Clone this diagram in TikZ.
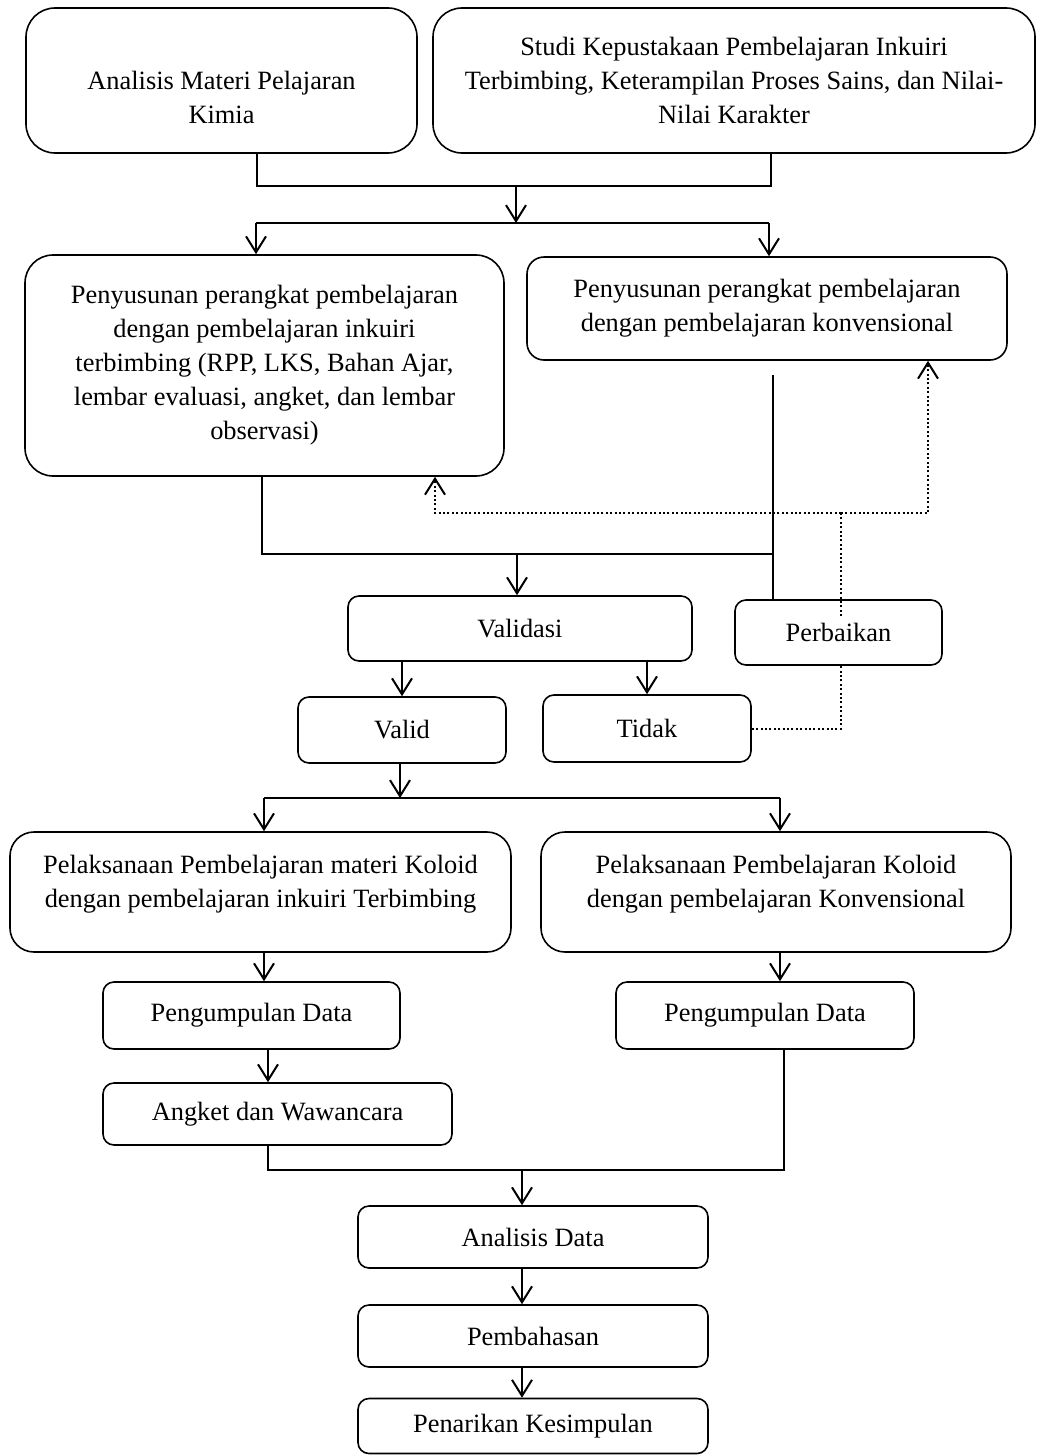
\documentclass[tikz,border=0pt]{standalone}
\usepackage{fontspec}
\setmainfont{Liberation Serif}
\usetikzlibrary{arrows.meta}

\begin{document}
\begin{tikzpicture}[x=1pt, y=-1pt, box/.style = {draw, line width=1.6pt, align=center, inner sep=2pt, rounded corners=#1, font=\fontsize{26.4}{34}\selectfont}, box/.default = 11pt, link/.style = {line width=2pt}, flow/.style = {link, -{Straight Barb[length=16pt,width=20pt]}}, fix/.style = {line width=2pt, dash pattern=on 2pt off 2.4pt}, fixflow/.style = {fix, -{Straight Barb[length=16pt,width=20pt]}}]

    \useasboundingbox (0,0) rectangle (1037,1456);

    % boxes
    \node[box=29pt, minimum width=391pt, minimum height=145pt, text height=87pt] (am) at (221.5,80.5) {Analisis Materi Pelajaran\\Kimia};
    \node[box=29pt, minimum width=602pt, minimum height=145pt] (sk) at (734,80.5) {Studi Kepustakaan Pembelajaran Inkuiri\\Terbimbing, Keterampilan Proses Sains, dan Nilai-\\Nilai Karakter};
    \node[box=28pt, minimum width=479pt, minimum height=221pt] (pi) at (264.5,365.5) {Penyusunan perangkat pembelajaran\\dengan pembelajaran inkuiri\\terbimbing (RPP, LKS, Bahan Ajar,\\lembar evaluasi, angket, dan lembar\\observasi)};
    \node[box=17pt, minimum width=480pt, minimum height=103pt] (pk) at (767,308.5) {Penyusunan perangkat pembelajaran\\dengan pembelajaran konvensional};
    \node[box, minimum width=344pt, minimum height=65pt] (val) at (520,628.5) {Validasi};
    \node[box, minimum width=207pt, minimum height=65pt] (pb) at (838.5,632.5) {Perbaikan};
    \node[box, minimum width=208pt, minimum height=66pt] (vd) at (402,730) {Valid};
    \node[box, minimum width=208pt, minimum height=67pt] (td) at (647,728.5) {Tidak};
    \node[box=24pt, minimum width=501pt, minimum height=120pt, text depth=22pt] (li) at (260.5,892) {Pelaksanaan Pembelajaran materi Koloid\\dengan pembelajaran inkuiri Terbimbing};
    \node[box=24pt, minimum width=470pt, minimum height=120pt, text depth=22pt] (lk) at (776,892) {Pelaksanaan Pembelajaran Koloid\\dengan pembelajaran Konvensional};
    \node[box, minimum width=297pt, minimum height=67pt] (pdl) at (251.5,1015.5) {Pengumpulan Data};
    \node[box, minimum width=298pt, minimum height=67pt] (pdr) at (765,1015.5) {Pengumpulan Data};
    \node[box, minimum width=349pt, minimum height=62pt] (aw) at (277.5,1114) {Angket dan Wawancara};
    \node[box, minimum width=350pt, minimum height=62pt] (ad) at (533,1237) {Analisis Data};
    \node[box, minimum width=350pt, minimum height=62pt] (pbh) at (533,1336) {Pembahasan};
    \node[box, minimum width=350pt, minimum height=55pt] (pks) at (533,1426) {Penarikan Kesimpulan};

    % junctions
    \coordinate (jl) at (257,186);
    \coordinate (jm) at (516,186);
    \coordinate (jr) at (771,186);
    \coordinate (sl) at (256,223);
    \coordinate (sm) at (516,223);
    \coordinate (sr) at (769,223);
    \coordinate (ml) at (262,554);
    \coordinate (mm) at (517,554);
    \coordinate (mr) at (773,554);
    \coordinate (pkgap) at (773,375);
    \coordinate (dl) at (435,513);
    \coordinate (dm) at (841,513);
    \coordinate (dr) at (928,513);
    \coordinate (vl) at (264,798);
    \coordinate (vm) at (400,798);
    \coordinate (vr) at (780,798);
    \coordinate (bl) at (268,1170);
    \coordinate (bm) at (522,1170);
    \coordinate (br) at (784,1170);
    \path (pb.north -| dm) ++(0,17) coordinate (pbin);

    % top
    \draw[link] (am.south -| jl) -- (jl) -- (jr) -- (sk.south -| jr);
    \draw[flow] (jm) -- (sm);
    \draw[link] (sl) -- (sr);
    \draw[flow] (sl) -- (pi.north -| sl);
    \draw[flow] (sr) -- (pk.north -| sr);

    % validation
    \draw[link] (pi.south -| ml) -- (ml) -- (mr);
    \draw[link] (pkgap) -- (pb.north -| pkgap);
    \draw[flow] (mm) -- (val.north -| mm);
    \draw[flow] (val.south -| vd.north) -- (vd.north);
    \draw[flow] (val.south -| td.north) -- (td.north);

    % revision
    \draw[fix] (td.east) -| (pb.south -| dm);
    \draw[fix] (pbin) -- (dm);
    \draw[fixflow] (dm) -| (pk.south -| dr);
    \draw[fixflow] (dm) -| (pi.south -| dl);

    % implementation
    \draw[flow] (vd.south -| vm) -- (vm);
    \draw[link] (vl) -- (vr);
    \draw[flow] (vl) -- (li.north -| vl);
    \draw[flow] (vr) -- (lk.north -| vr);
    \draw[flow] (li.south -| vl) -- (pdl.north -| vl);
    \draw[flow] (lk.south -| vr) -- (pdr.north -| vr);
    \draw[flow] (pdl.south -| bl) -- (aw.north -| bl);

    % analysis
    \draw[link] (aw.south -| bl) -- (bl) -- (br) -- (pdr.south -| br);
    \draw[flow] (bm) -- (ad.north -| bm);
    \draw[flow] (ad.south -| bm) -- (pbh.north -| bm);
    \draw[flow] (pbh.south -| bm) -- (pks.north -| bm);

\end{tikzpicture}
\end{document}
